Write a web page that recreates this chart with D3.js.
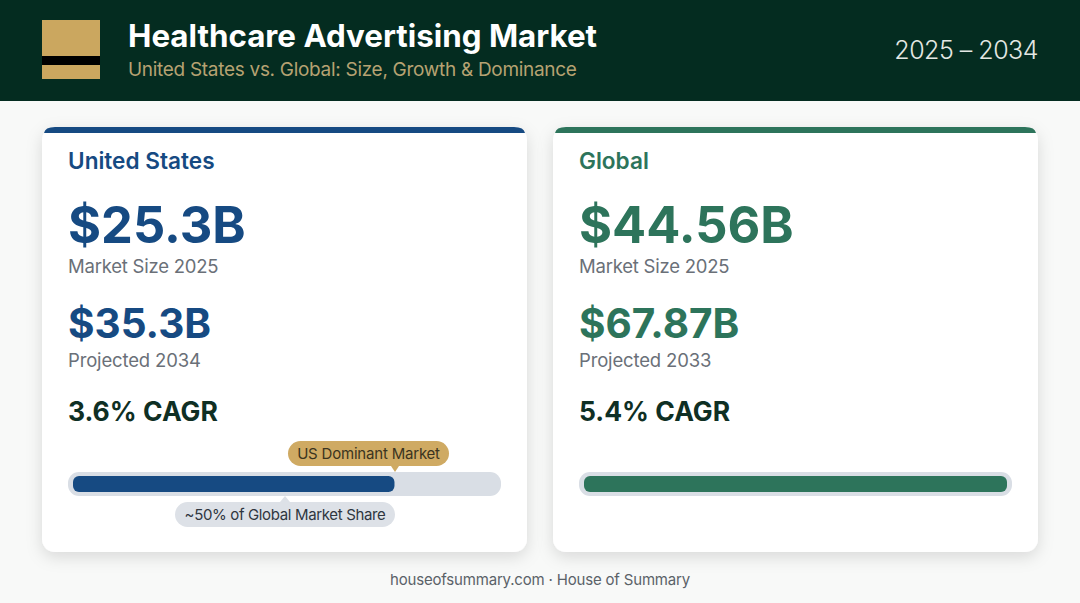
<!DOCTYPE html>
<html>
<head>
<meta charset="utf-8">
<script src="https://cdn.jsdelivr.net/npm/d3@7"></script>
<style>
html,body{margin:0;padding:0;background:#f8f9f8;}
svg{display:block;}
text{font-family:Inter,"Noto Sans",sans-serif;}
</style>
</head>
<body>
<div id="chart"></div>
<script>
'use strict';

const regions = ['United States','Global'];
const sizeLabels = ['$25.3B','$44.56B'];
const sizeCaptions = ['Market Size 2025','Market Size 2025'];
const projLabels = ['$35.3B','$67.87B'];
const projCaptions = ['Projected 2034','Projected 2033'];
const cagrLabels = ['3.6% CAGR','5.4% CAGR'];
const barValues = [76,100];
const regionColors = ['#164a82','#2d745b'];

const width = 1080, height = 603;
const svg = d3.select('#chart').append('svg')
	.attr('width',width)
	.attr('height',height);

// soft card shadow
const defs = svg.append('defs');
const shadow = defs.append('filter').attr('id','cardShadow')
	.attr('x','-10%').attr('y','-10%').attr('width','120%').attr('height','125%');
shadow.append('feDropShadow')
	.attr('dx',0).attr('dy',5).attr('stdDeviation',8)
	.attr('flood-color','#000').attr('flood-opacity',0.13);

svg.append('rect').attr('width',width).attr('height',height).attr('fill','#f8f9f8');

// header
svg.append('rect').attr('width',width).attr('height',101).attr('fill','#042c20');
svg.append('rect').attr('x',42).attr('y',20).attr('width',58).attr('height',59).attr('fill','#cba75f');
svg.append('rect').attr('x',42).attr('y',56).attr('width',58).attr('height',9).attr('fill','#000');
svg.append('text').attr('x',128).attr('y',47)
	.attr('font-size',31.3).attr('font-weight',700).attr('fill','#fff')
	.text('Healthcare Advertising Market');
svg.append('text').attr('x',128).attr('y',76)
	.attr('font-size',19).attr('font-weight',400).attr('letter-spacing',-0.3).attr('fill','#b6a272')
	.text('United States vs. Global: Size, Growth & Dominance');
svg.append('text').attr('x',1038).attr('y',59).attr('text-anchor','end')
	.attr('font-size',25).attr('font-weight',300).attr('letter-spacing',-0.5).attr('fill','#e4e8e4')
	.text('2025 – 2034');

// cards, one per region
const cardX = d3.scaleBand().domain(regions).range([42,1038]).paddingInner(0.0509);
const cardTop = 127, cardH = 425;
// bar runs inside its track with a 5px inset
const barX = d3.scaleLinear().domain([0,100]).range([0,423]);

regions.forEach(function(name,i){
	const color = regionColors[i];
	const g = svg.append('g').attr('transform','translate('+cardX(name)+','+cardTop+')');
	const w = cardX.bandwidth();

	g.append('rect').attr('width',w).attr('height',cardH).attr('rx',13)
		.attr('fill','#fff').attr('filter','url(#cardShadow)');
	g.append('path')
		.attr('d','M2,6 Q3,0 13,0 H'+(w-13)+' Q'+(w-3)+',0 '+(w-2)+',6 Z')
		.attr('fill',color);

	g.append('text').attr('x',26).attr('y',42)
		.attr('font-size',22.6).attr('font-weight',600).attr('fill',color).text(name);
	g.append('text').attr('x',26).attr('y',116)
		.attr('font-size',50.5).attr('font-weight',700).attr('fill',color).text(sizeLabels[i]);
	g.append('text').attr('x',26).attr('y',146)
		.attr('font-size',18.5).attr('letter-spacing',-0.22).attr('fill','#6a7078').text(sizeCaptions[i]);
	g.append('text').attr('x',26).attr('y',211)
		.attr('font-size',40.5).attr('font-weight',700).attr('fill',color).text(projLabels[i]);
	g.append('text').attr('x',26).attr('y',240)
		.attr('font-size',18.5).attr('letter-spacing',-0.15).attr('fill','#6a7078').text(projCaptions[i]);
	g.append('text').attr('x',26).attr('y',294)
		.attr('font-size',26.5).attr('font-weight',700).attr('fill','#0f2f24').text(cagrLabels[i]);

	// track and fill
	g.append('rect').attr('x',26).attr('y',345).attr('width',433).attr('height',24).attr('rx',11)
		.attr('fill','#d9dee5');
	g.append('rect').attr('x',31).attr('y',349).attr('width',barX(barValues[i])).attr('height',16).attr('rx',6)
		.attr('fill',color);
});

// callouts on the US card
const us = svg.append('g').attr('transform','translate('+cardX('United States')+','+cardTop+')');
us.append('path').attr('d','M349,339 L353,345 L357,339 Z').attr('fill','#cfaa63');
us.append('rect').attr('x',246).attr('y',314).attr('width',161).attr('height',25).attr('rx',12.5)
	.attr('fill','#cfaa63');
us.append('text').attr('x',326.5).attr('y',332).attr('text-anchor','middle')
	.attr('font-size',15).attr('letter-spacing',-0.2).attr('fill','#3b3420').text('US Dominant Market');
us.append('path').attr('d','M238,375 L243,369 L248,375 Z').attr('fill','#dde1e7');
us.append('rect').attr('x',133).attr('y',375).attr('width',220).attr('height',25).attr('rx',12.5)
	.attr('fill','#dde1e7');
us.append('text').attr('x',243).attr('y',393).attr('text-anchor','middle')
	.attr('font-size',15).attr('letter-spacing',-0.35).attr('fill','#2f3640').text('~50% of Global Market Share');

// footer
svg.append('text').attr('x',540).attr('y',585).attr('text-anchor','middle')
	.attr('font-size',15).attr('letter-spacing',-0.18).attr('fill','#5b6268').text('houseofsummary.com · House of Summary');
</script>
</body>
</html>
